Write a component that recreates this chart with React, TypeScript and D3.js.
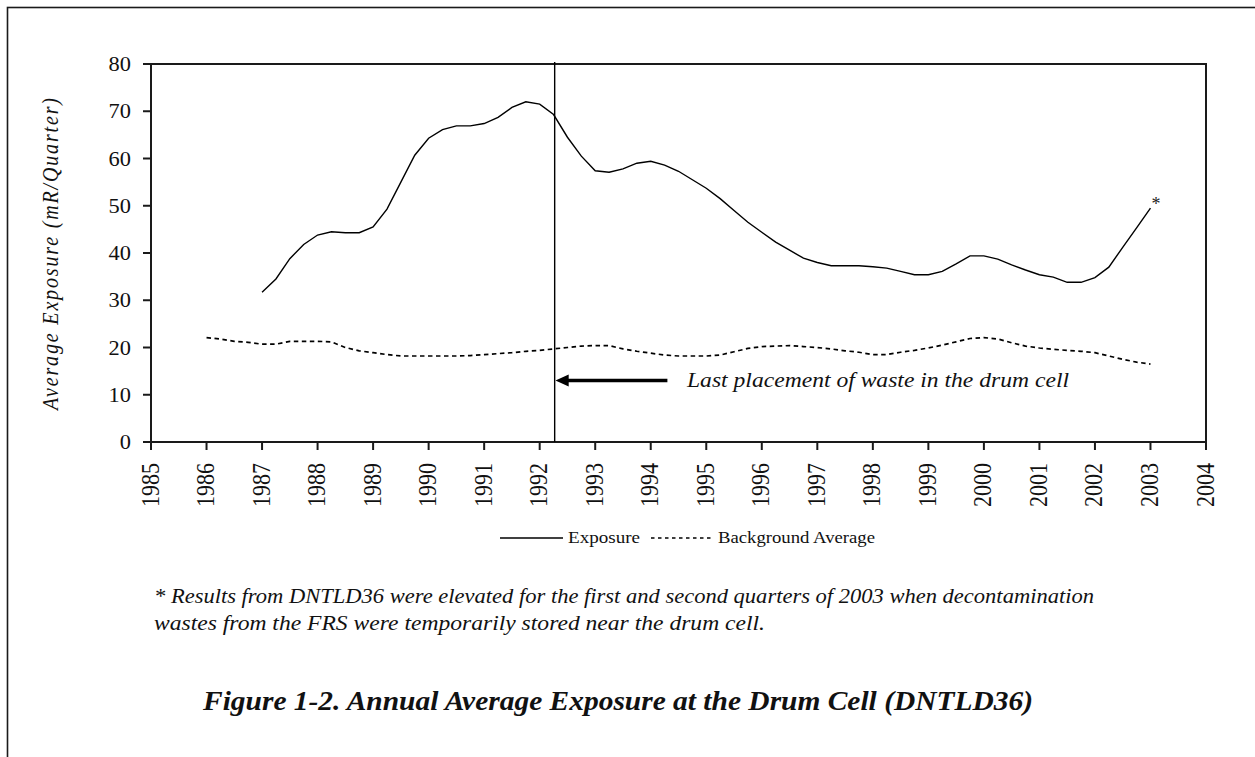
import React from "react";
import * as d3 from "d3";

const xTicks = [1985,1986,1987,1988,1989,1990,1991,1992,1993,1994,1995,1996,1997,1998,1999,2000,2001,2002,2003,2004];
const yTicks = [0,10,20,30,40,50,60,70,80];

const expYears = [
  1987,1987.25,1987.5,1987.75,1988,1988.25,1988.5,1988.75,1989,1989.25,1989.5,1989.75,
  1990,1990.25,1990.5,1990.75,1991,1991.25,1991.5,1991.75,1992,1992.25,1992.5,1992.75,
  1993,1993.25,1993.5,1993.75,1994,1994.25,1994.5,1994.75,1995,1995.25,1995.5,1995.75,
  1996,1996.25,1996.5,1996.75,1997,1997.25,1997.5,1997.75,1998,1998.25,1998.5,1998.75,
  1999,1999.25,1999.5,1999.75,2000,2000.25,2000.5,2000.75,2001,2001.25,2001.5,2001.75,
  2002,2002.25,2002.5,2002.75,2003
];
const exposure = [
  31.7,34.5,38.8,41.8,43.8,44.5,44.3,44.3,45.5,49.3,55.0,60.7,
  64.3,66.1,66.9,66.9,67.4,68.7,70.8,72.0,71.5,69.3,64.5,60.5,
  57.4,57.1,57.8,59.0,59.4,58.6,57.3,55.5,53.7,51.5,49.0,46.5,
  44.4,42.3,40.6,38.9,38.0,37.3,37.3,37.3,37.1,36.8,36.1,35.4,
  35.4,36.1,37.7,39.4,39.4,38.7,37.5,36.4,35.4,34.9,33.8,33.8,
  34.8,37.0,41.2,45.3,49.5
];

const bgYears = [
  1986,1986.25,1986.5,1986.75,
  1987,1987.25,1987.5,1987.75,1988,1988.25,1988.5,1988.75,1989,1989.25,1989.5,1989.75,
  1990,1990.25,1990.5,1990.75,1991,1991.25,1991.5,1991.75,1992,1992.25,1992.5,1992.75,
  1993,1993.25,1993.5,1993.75,1994,1994.25,1994.5,1994.75,1995,1995.25,1995.5,1995.75,
  1996,1996.25,1996.5,1996.75,1997,1997.25,1997.5,1997.75,1998,1998.25,1998.5,1998.75,
  1999,1999.25,1999.5,1999.75,2000,2000.25,2000.5,2000.75,2001,2001.25,2001.5,2001.75,
  2002,2002.25,2002.5,2002.75,2003
];
const background = [
  22.1,21.8,21.3,21.1,
  20.7,20.7,21.3,21.3,21.3,21.2,20.0,19.3,18.9,18.5,18.2,18.2,
  18.2,18.2,18.2,18.3,18.5,18.7,18.9,19.2,19.4,19.7,20.0,20.3,
  20.4,20.4,19.7,19.2,18.8,18.4,18.2,18.2,18.2,18.4,19.1,19.8,
  20.2,20.3,20.4,20.2,20.0,19.7,19.3,19.0,18.5,18.5,19.0,19.4,
  19.9,20.5,21.2,21.9,22.1,21.8,21.0,20.3,19.9,19.6,19.4,19.2,
  18.9,18.2,17.5,16.9,16.5
];

const lastPlacementYear = 1992.27;
const arrowStartYear = 1994.3;
const arrowLevel = 13;

const FONT = "'Liberation Serif', 'Times New Roman', Times, 'DejaVu Serif Condensed', 'DejaVu Serif', serif";

export default function App() {
  const left = 151, right = 1206, top = 64, bottom = 442;
  const x = d3.scaleLinear().domain([1985, 2004]).range([left, right]);
  const y = d3.scaleLinear().domain([0, 80]).range([bottom, top]);

  const line = d3.line<[number, number]>().x(d => x(d[0])).y(d => y(d[1])).curve(d3.curveLinear);
  const expPath = line(expYears.map((t, i) => [t, exposure[i]] as [number, number])) || "";
  const bgPath = line(bgYears.map((t, i) => [t, background[i]] as [number, number])) || "";

  const vx = x(lastPlacementYear);
  const ay = y(arrowLevel);
  const ax0 = x(arrowStartYear);

  const lastX = x(expYears[expYears.length - 1]);
  const lastY = y(exposure[exposure.length - 1]);

  return (
    <svg width={1255} height={757} style={{ position: "absolute", left: 0, top: 0, display: "block", background: "#fff" }} fontFamily={FONT}>
      {/* outer frame */}
      <rect x={7.5} y={7.5} width={1400} height={900} fill="none" stroke="#1a1a1a" strokeWidth={1.6} />

      {/* plot box */}
      <rect x={left} y={top} width={right - left} height={bottom - top} fill="none" stroke="#1a1a1a" strokeWidth={2} />

      {/* y ticks */}
      {yTicks.map(t => (
        <g key={"y" + t}>
          <line x1={left - 8} x2={left} y1={y(t)} y2={y(t)} stroke="#1a1a1a" strokeWidth={2} />
          <text transform={`translate(${left - 20},${y(t) + 7}) scale(1.12,1)`} textAnchor="end" fontSize={20} fill="#111">{t}</text>
        </g>
      ))}

      {/* x ticks */}
      {xTicks.map(t => (
        <g key={"x" + t}>
          <line x1={x(t)} x2={x(t)} y1={bottom} y2={bottom + 8} stroke="#1a1a1a" strokeWidth={2} />
          <text transform={`translate(${x(t) + 7.5},${bottom + 21}) scale(1.15,1) rotate(-90)`} textAnchor="end" fontSize={22} fill="#111">{t}</text>
        </g>
      ))}

      {/* y axis title */}
      <text transform={`translate(58,${(top + bottom) / 2 + 1}) scale(1.15,1) rotate(-90)`} textAnchor="middle" fontSize={20} fontStyle="italic" fill="#111" textLength={312} lengthAdjust="spacing">Average Exposure  (mR/Quarter)</text>

      {/* data lines */}
      <path d={bgPath} fill="none" stroke="#000" strokeWidth={1.7} strokeDasharray="4.5,3.5" />
      <path d={expPath} fill="none" stroke="#000" strokeWidth={1.4} />

      {/* asterisk */}
      <text x={lastX + 1} y={lastY + 2} fontSize={18} fill="#222">*</text>

      {/* vertical marker */}
      <line x1={vx} x2={vx} y1={top - 2} y2={bottom} stroke="#000" strokeWidth={1.4} />

      {/* arrow */}
      <line x1={ax0} x2={vx + 12} y1={ay} y2={ay} stroke="#000" strokeWidth={3.5} />
      <path d={`M${vx + 0.8},${ay} L${vx + 14},${ay - 6} L${vx + 14},${ay + 6} Z`} fill="#000" />
      <text x={687} y={387} fontSize={21} fontStyle="italic" fill="#111" textLength={382} lengthAdjust="spacingAndGlyphs">Last placement of waste in the drum cell</text>

      {/* legend */}
      <line x1={500} x2={563} y1={538} y2={538} stroke="#000" strokeWidth={1.5} />
      <text x={568} y={543} fontSize={16} fill="#111" textLength={72} lengthAdjust="spacingAndGlyphs">Exposure</text>
      <line x1={651} x2={711} y1={538} y2={538} stroke="#000" strokeWidth={1.5} strokeDasharray="3.5,3.5" />
      <text x={718} y={543} fontSize={16} fill="#111" textLength={157} lengthAdjust="spacingAndGlyphs">Background Average</text>

      {/* footnote */}
      <text x={154} y={603} fontSize={20} fontStyle="italic" fill="#111" textLength={940} lengthAdjust="spacingAndGlyphs">* Results from DNTLD36 were elevated for the first and second quarters of 2003 when decontamination</text>
      <text x={154} y={630} fontSize={20} fontStyle="italic" fill="#111" textLength={611} lengthAdjust="spacingAndGlyphs">wastes from the FRS were temporarily stored near the drum cell.</text>

      {/* title */}
      <text x={203} y={710} fontSize={27} fontStyle="italic" fontWeight="bold" fill="#111" textLength={830} lengthAdjust="spacingAndGlyphs">Figure 1-2. Annual Average Exposure at the Drum Cell (DNTLD36)</text>
    </svg>
  );
}
